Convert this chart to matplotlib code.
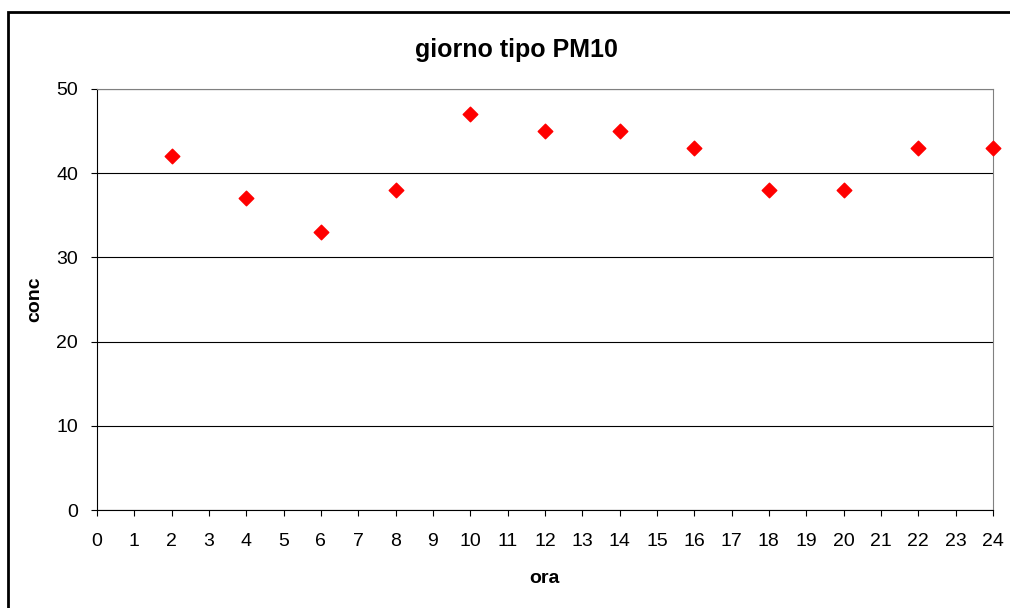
import matplotlib
matplotlib.use('Agg')
import matplotlib.pyplot as plt
from matplotlib.patches import Rectangle

plt.rcParams['font.family'] = ['Liberation Sans', 'DejaVu Sans']

ora = [2, 4, 6, 8, 10, 12, 14, 16, 18, 20, 22, 24]
conc = [42, 37, 33, 38, 47, 45, 45, 43, 38, 38, 43, 43]

fig = plt.figure(figsize=(10.1, 6.08), dpi=100)
ax = fig.add_axes([0.096, 0.161, 0.887, 0.693])

# bordo esterno del grafico
fig.patches.append(Rectangle((0.008, -0.1), 1.2, 1.08, transform=fig.transFigure,
                             fill=False, edgecolor='black', linewidth=2))

ax.scatter(ora, conc, marker='D', s=55, color='#ff0000', zorder=3, clip_on=False)

ax.set_xlim(0, 24)
ax.set_ylim(0, 50)
ax.set_xticks(range(0, 25))
ax.set_yticks(range(0, 51, 10))
ax.yaxis.grid(True, color='black', linewidth=0.8)
ax.set_axisbelow(True)
ax.tick_params(direction='out', length=4.5, width=0.8, labelsize=14)
ax.tick_params(axis='x', pad=12)
ax.tick_params(axis='y', pad=9)
for s in ['top', 'right']:
    ax.spines[s].set_color('#808080')

fig.text(0.511, 1 - 50 / 608, 'giorno tipo PM10', fontsize=18, fontweight='bold',
         ha='center', va='center')
ax.set_xlabel('ora', fontsize=14, fontweight='bold')
ax.set_ylabel('conc', fontsize=14, fontweight='bold')
ax.xaxis.set_label_coords(0.5, -0.162)
ax.yaxis.set_label_coords(-0.069, 0.5)
ax.xaxis.label.set_va('center')
ax.yaxis.label.set_va('center')

fig.savefig('out.png', dpi=100)
